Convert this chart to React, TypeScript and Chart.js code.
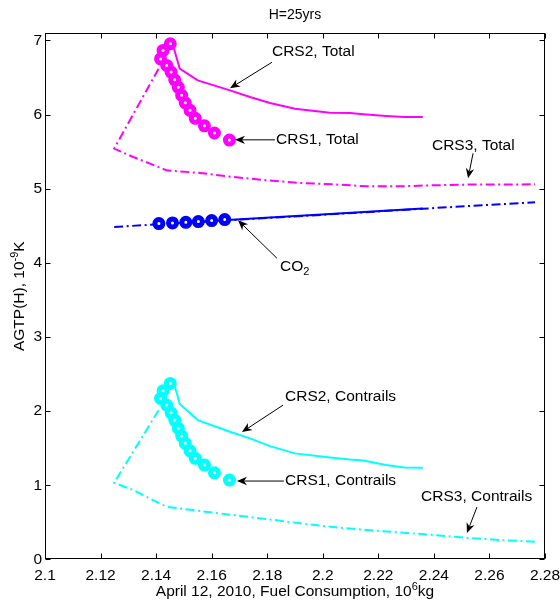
import React, { useEffect, useRef } from "react";
import { Chart, registerables } from "chart.js";

Chart.register(...registerables);

const FONT = "'Liberation Sans', Arial, Helvetica, sans-serif";

const titleText = "H=25yrs";
const xLabelMain = "April 12, 2010, Fuel Consumption, 10";
const xLabelSup = "6";
const xLabelTail = "kg";
const yLabelMain = "AGTP(H), 10";
const yLabelSup = "-9";
const yLabelTail = "K";

const xTickValues = [2.1, 2.12, 2.14, 2.16, 2.18, 2.2, 2.22, 2.24, 2.26, 2.28];
const yTickValues = [0, 1, 2, 3, 4, 5, 6, 7];

// CRS1 (markers)
const crs1X = [2.1451, 2.1425, 2.1416, 2.1438, 2.1454, 2.1467, 2.148, 2.1492, 2.1505, 2.1522, 2.1541, 2.1574, 2.161, 2.1664];
const crs1Total = [6.955, 6.865, 6.75, 6.663, 6.573, 6.468, 6.367, 6.259, 6.158, 6.057, 5.949, 5.848, 5.751, 5.656];
const crs1Contrails = [2.373, 2.274, 2.171, 2.081, 1.977, 1.879, 1.767, 1.663, 1.565, 1.465, 1.363, 1.272, 1.168, 1.07];
const crs1Co2X = [2.141, 2.1459, 2.1507, 2.1552, 2.16, 2.1647];
const crs1Co2 = [4.53, 4.538, 4.547, 4.557, 4.57, 4.584];

// CRS2 (solid)
const crs2X = [2.146, 2.1485, 2.155, 2.1666, 2.1738, 2.181, 2.19, 2.2026, 2.2098, 2.2146, 2.2228, 2.2293, 2.236];
const crs2Total = [6.946, 6.619, 6.461, 6.326, 6.236, 6.155, 6.077, 6.026, 6.02, 6.003, 5.98, 5.966, 5.966];
const crs2Contrails = [2.441, 2.096, 1.879, 1.721, 1.632, 1.528, 1.43, 1.376, 1.346, 1.333, 1.273, 1.241, 1.236];
const crs2Co2X = [2.146, 2.181, 2.2026, 2.236];
const crs2Co2 = [4.535, 4.612, 4.659, 4.732];

// CRS3 (dash-dot)
const crs3X = [2.1409, 2.1249, 2.1318, 2.1378, 2.1438, 2.1558, 2.1678, 2.1798, 2.1918, 2.2037, 2.2158, 2.2278, 2.2398, 2.2518, 2.2638, 2.2764];
const crs3Total = [6.619, 5.541, 5.427, 5.338, 5.248, 5.212, 5.158, 5.113, 5.077, 5.059, 5.032, 5.032, 5.046, 5.055, 5.055, 5.059];
const crs3Contrails = [2.013, 1.034, 0.935, 0.82, 0.71, 0.652, 0.598, 0.544, 0.487, 0.437, 0.396, 0.363, 0.329, 0.292, 0.261, 0.239];
const crs3Co2X = [2.1249, 2.1409, 2.1666, 2.2026, 2.236, 2.2764];
const crs3Co2 = [4.484, 4.52, 4.575, 4.654, 4.73, 4.817];

type Note = { text: string; sub?: string; tx: number; ty: number; ax: number; ay: number; bx: number; by: number };
const notes: Note[] = [
  { text: "CRS2, Total", tx: 2.1817, ty: 6.853, ax: 2.1817, ay: 6.705, bx: 2.1666, by: 6.354 },
  { text: "CRS1, Total", tx: 2.1832, ty: 5.659, ax: 2.1828, ay: 5.659, bx: 2.1684, by: 5.659 },
  { text: "CRS3, Total", tx: 2.2393, ty: 5.585, ax: 2.2541, ay: 5.477, bx: 2.2523, by: 5.14 },
  { text: "CO", sub: "2", tx: 2.1846, ty: 3.954, ax: 2.1835, ay: 4.062, bx: 2.1695, by: 4.574 },
  { text: "CRS2, Contrails", tx: 2.1864, ty: 2.189, ax: 2.1857, ay: 2.081, bx: 2.1709, by: 1.717 },
  { text: "CRS1, Contrails", tx: 2.1864, ty: 1.057, ax: 2.186, ay: 1.057, bx: 2.1691, by: 1.057 },
  { text: "CRS3, Contrails", tx: 2.2354, ty: 0.841, ax: 2.2555, ay: 0.706, bx: 2.2519, by: 0.356 },
];

const MAGENTA = "#ff00ff";
const CYAN = "#00ffff";
const BLUE = "#0000ff";
const DASHDOT = [9, 3.5, 2, 3.5];

const pts = (xs: number[], ys: number[]) => xs.map((x, i) => ({ x, y: ys[i] }));

function drawArrow(ctx: CanvasRenderingContext2D, x0: number, y0: number, x1: number, y1: number) {
  const a = Math.atan2(y1 - y0, x1 - x0);
  const L = 10, W = 4.2, N = 7;
  const c = Math.cos(a), s = Math.sin(a);
  ctx.beginPath();
  ctx.moveTo(x0, y0);
  ctx.lineTo(x1 - N * c, y1 - N * s);
  ctx.stroke();
  const bx = x1 - L * c, by = y1 - L * s;
  const px = -s, py = c;
  ctx.beginPath();
  ctx.moveTo(x1, y1);
  ctx.lineTo(bx + W * px, by + W * py);
  ctx.lineTo(x1 - N * c, y1 - N * s);
  ctx.lineTo(bx - W * px, by - W * py);
  ctx.closePath();
  ctx.fill();
}

const overlay = {
  id: "overlay",
  afterDraw(chart: any) {
    const ctx: CanvasRenderingContext2D = chart.ctx;
    const ca = chart.chartArea;
    const xs = chart.scales.x;
    const ys = chart.scales.y;
    ctx.save();
    ctx.strokeStyle = "#000";
    ctx.fillStyle = "#000";
    ctx.lineWidth = 1;
    const L = Math.round(ca.left) + 0.5, R = Math.round(ca.right) - 0.5;
    const T = Math.round(ca.top) + 0.5, B = Math.round(ca.bottom) - 0.5;
    ctx.strokeRect(L, T, R - L, B - T);
    const tl = 5;
    ctx.beginPath();
    for (const v of xTickValues) {
      const p = Math.round(xs.getPixelForValue(v)) + 0.5;
      ctx.moveTo(p, B); ctx.lineTo(p, B - tl);
      ctx.moveTo(p, T); ctx.lineTo(p, T + tl);
    }
    for (const v of yTickValues) {
      const p = Math.round(ys.getPixelForValue(v)) + 0.5;
      ctx.moveTo(L, p); ctx.lineTo(L + tl, p);
      ctx.moveTo(R, p); ctx.lineTo(R - tl, p);
    }
    ctx.stroke();

    // title
    ctx.font = `14px ${FONT}`;
    ctx.textAlign = "center";
    ctx.textBaseline = "middle";
    ctx.fillText(titleText, (ca.left + ca.right) / 2, 15);

    // x label with superscript
    const mainF = `15.5px ${FONT}`;
    const supF = `11px ${FONT}`;
    ctx.textAlign = "left";
    ctx.textBaseline = "alphabetic";
    ctx.font = mainF;
    const w1 = ctx.measureText(xLabelMain).width;
    const w3 = ctx.measureText(xLabelTail).width;
    ctx.font = supF;
    const w2 = ctx.measureText(xLabelSup).width;
    const xc = (ca.left + ca.right) / 2;
    const sx = xc - (w1 + w2 + w3) / 2;
    const base = 596;
    ctx.font = mainF;
    ctx.fillText(xLabelMain, sx, base);
    ctx.font = supF;
    ctx.fillText(xLabelSup, sx + w1, base - 6.5);
    ctx.font = mainF;
    ctx.fillText(xLabelTail, sx + w1 + w2, base);

    // y label rotated
    ctx.save();
    ctx.translate(24, (ca.top + ca.bottom) / 2);
    ctx.rotate(-Math.PI / 2);
    ctx.font = mainF;
    const v1 = ctx.measureText(yLabelMain).width;
    const v3 = ctx.measureText(yLabelTail).width;
    ctx.font = supF;
    const v2 = ctx.measureText(yLabelSup).width;
    const sy = -(v1 + v2 + v3) / 2;
    ctx.font = mainF;
    ctx.fillText(yLabelMain, sy, 0);
    ctx.font = supF;
    ctx.fillText(yLabelSup, sy + v1, -6.5);
    ctx.font = mainF;
    ctx.fillText(yLabelTail, sy + v1 + v2, 0);
    ctx.restore();

    // annotations
    const nf = `15.5px ${FONT}`;
    for (const n of notes) {
      const tx = xs.getPixelForValue(n.tx), ty = ys.getPixelForValue(n.ty);
      ctx.font = nf;
      ctx.textAlign = "left";
      ctx.textBaseline = "middle";
      ctx.fillText(n.text, tx, ty);
      if (n.sub) {
        const w = ctx.measureText(n.text).width;
        ctx.font = `11px ${FONT}`;
        ctx.fillText(n.sub, tx + w, ty + 6);
      }
      ctx.lineWidth = 1;
      drawArrow(ctx, xs.getPixelForValue(n.ax), ys.getPixelForValue(n.ay), xs.getPixelForValue(n.bx), ys.getPixelForValue(n.by));
    }
    ctx.restore();
  },
};

export default function App() {
  const ref = useRef<HTMLCanvasElement | null>(null);
  useEffect(() => {
    if (!ref.current) return;
    const marker = (color: string, xs: number[], ys: number[]) => ({
      data: pts(xs, ys),
      showLine: false,
      pointRadius: 4,
      pointBorderWidth: 5,
      pointBorderColor: color,
      pointBackgroundColor: "#ffffff",
      borderColor: color,
      backgroundColor: "#ffffff",
    });
    const line = (color: string, xs: number[], ys: number[], dash: number[]) => ({
      data: pts(xs, ys),
      showLine: true,
      pointRadius: 0,
      borderColor: color,
      borderWidth: 2,
      borderDash: dash,
      backgroundColor: color,
      tension: 0,
      fill: false,
    });
    const chart = new Chart(ref.current, {
      type: "scatter",
      data: {
        datasets: [
          marker(MAGENTA, crs1X, crs1Total),
          marker(CYAN, crs1X, crs1Contrails),
          marker(BLUE, crs1Co2X, crs1Co2),
          line(MAGENTA, crs2X, crs2Total, []),
          line(CYAN, crs2X, crs2Contrails, []),
          line(BLUE, crs2Co2X, crs2Co2, []),
          line(MAGENTA, crs3X, crs3Total, DASHDOT),
          line(CYAN, crs3X, crs3Contrails, DASHDOT),
          line(BLUE, crs3Co2X, crs3Co2, DASHDOT),
        ] as any,
      },
      options: {
        animation: false,
        responsive: false,
        devicePixelRatio: 1,
        layout: { padding: { top: 33, right: 0, left: 0, bottom: 0 } },
        plugins: { legend: { display: false }, title: { display: false }, tooltip: { enabled: false } },
        scales: {
          x: {
            type: "linear",
            min: 2.1,
            max: 2.28,
            grid: { display: false, drawTicks: false },
            border: { display: false },
            ticks: {
              stepSize: 0.02,
              includeBounds: false,
              autoSkip: false,
              maxRotation: 0,
              padding: 7,
              color: "#000",
              font: { family: FONT, size: 15.5 },
              callback: (v: any) => String(Number(Number(v).toFixed(2))),
            },
            afterFit: (s: any) => {
              s.height = 45.6;
              s.paddingLeft = 0;
              s.paddingRight = 15;
            },
          },
          y: {
            type: "linear",
            min: 0,
            max: 7.1,
            grid: { display: false, drawTicks: false },
            border: { display: false },
            ticks: {
              stepSize: 1,
              includeBounds: false,
              padding: 3,
              color: "#000",
              font: { family: FONT, size: 15.5 },
            },
            afterFit: (s: any) => {
              s.width = 45;
              s.paddingTop = 0;
              s.paddingBottom = 0;
            },
          },
        },
      } as any,
      plugins: [overlay],
    });
    return () => chart.destroy();
  }, []);
  return (
    <div style={{ position: "fixed", left: 0, top: 0, width: 560, height: 605, background: "#fff" }}>
      <canvas ref={ref} width={560} height={605} style={{ display: "block" }} />
    </div>
  );
}
